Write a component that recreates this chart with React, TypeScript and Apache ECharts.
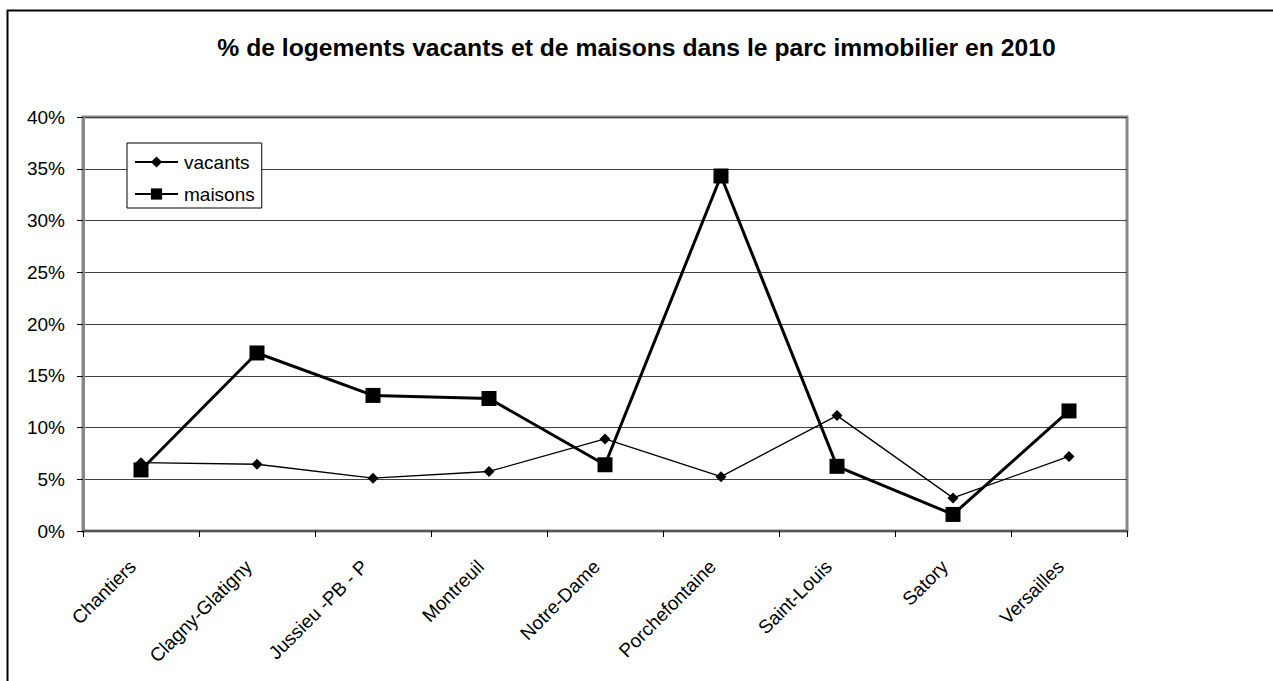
import React, { useEffect, useRef } from "react";
import * as echarts from "echarts";

const categories = [
  "Chantiers",
  "Clagny-Glatigny",
  "Jussieu -PB - P",
  "Montreuil",
  "Notre-Dame",
  "Porchefontaine",
  "Saint-Louis",
  "Satory",
  "Versailles",
];
const vacants = [6.6, 6.45, 5.1, 5.75, 8.9, 5.25, 11.15, 3.2, 7.2];
const maisons = [5.9, 17.2, 13.1, 12.8, 6.4, 34.3, 6.25, 1.6, 11.6];
const titleText = "% de logements vacants et de maisons dans le parc immobilier en 2010";
const FONT = "'Liberation Sans', Arial, sans-serif";

export default function App() {
  const ref = useRef<HTMLDivElement>(null);
  useEffect(() => {
    if (!ref.current) return;
    const chart = echarts.init(ref.current, null, { renderer: "svg" });
    chart.setOption({
      animation: false,
      backgroundColor: "#fff",
      textStyle: { fontFamily: FONT, color: "#000" },
      title: {
        text: titleText,
        left: "center",
        top: 35,
        padding: 0,
        textStyle: { fontFamily: FONT, fontSize: 24.7, fontWeight: "bold", color: "#000" },
      },
      graphic: [
        { type: "line", shape: { x1: 7, y1: 10.5, x2: 1273, y2: 10.5 }, style: { stroke: "#000", lineWidth: 2 } },
        { type: "line", shape: { x1: 7.5, y1: 10, x2: 7.5, y2: 681 }, style: { stroke: "#000", lineWidth: 2 } },
      ],
      legend: {
        orient: "vertical",
        left: 127,
        top: 143,
        padding: [9, 7, 4, 7],
        itemWidth: 43,
        itemHeight: 14,
        itemGap: 12,
        borderColor: "#000",
        borderWidth: 1,
        backgroundColor: "#fff",
        textStyle: { fontFamily: FONT, fontSize: 19, color: "#000", lineHeight: 20, padding: [0, 0, 0, 1] },
        data: ["vacants", "maisons"],
      },
      grid: {
        left: 83,
        top: 117,
        right: 146,
        bottom: 150,
        show: true,
        borderColor: "#888",
        borderWidth: 3,
        backgroundColor: "#fff",
      },
      xAxis: {
        type: "category",
        data: categories,
        boundaryGap: true,
        axisLine: { lineStyle: { color: "#555", width: 2 } },
        axisTick: { show: true, length: 6, lineStyle: { color: "#000" } },
        axisLabel: {
          rotate: 45,
          margin: 24,
          padding: [0, 12, 0, 0],
          fontSize: 19,
          fontFamily: FONT,
          color: "#000",
          interval: 0,
        },
      },
      yAxis: {
        type: "value",
        min: 0,
        max: 40,
        interval: 5,
        axisLine: { show: true, lineStyle: { color: "#888", width: 3 } },
        axisTick: { show: true, length: 6, lineStyle: { color: "#000" } },
        axisLabel: { formatter: "{value}%", margin: 18, fontSize: 19, fontFamily: FONT, color: "#000" },
        splitLine: { show: true, lineStyle: { color: "#404040", width: 1 } },
      },
      series: [
        {
          name: "vacants",
          type: "line",
          data: vacants,
          symbol: "diamond",
          symbolSize: 11,
          lineStyle: { color: "#000", width: 1.3 },
          itemStyle: { color: "#000" },
        },
        {
          name: "maisons",
          type: "line",
          data: maisons,
          symbol: "rect",
          symbolSize: 15,
          lineStyle: { color: "#000", width: 3 },
          itemStyle: { color: "#000" },
        },
      ],
    });
    return () => chart.dispose();
  }, []);
  return (
    <div
      ref={ref}
      style={{ position: "absolute", left: 0, top: 0, width: 1273, height: 681 }}
    />
  );
}
